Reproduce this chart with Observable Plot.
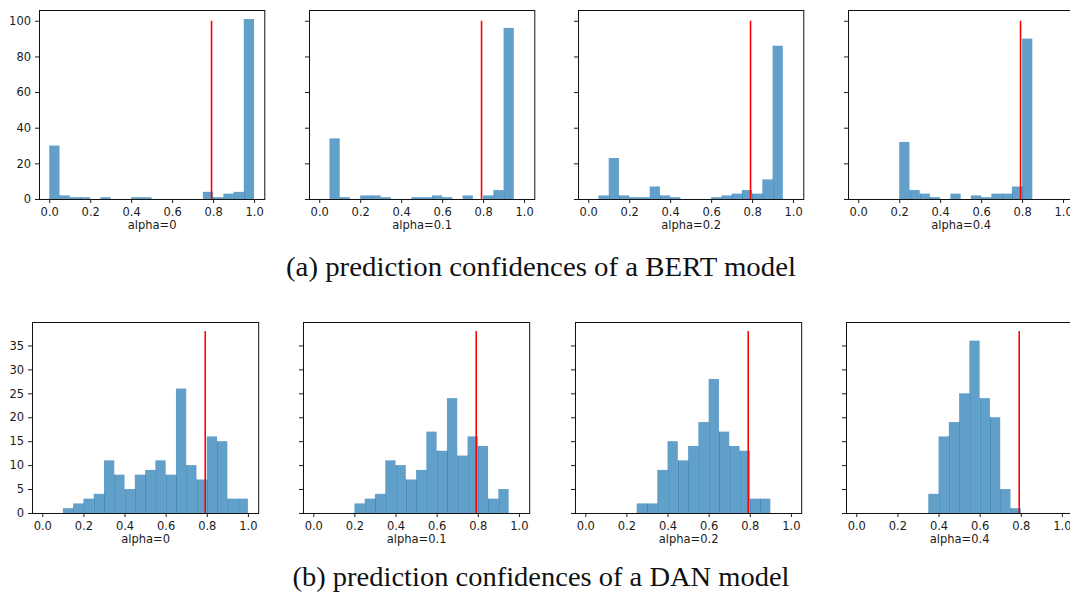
<!DOCTYPE html>
<html>
<head>
<meta charset="utf-8">
<script src="https://cdn.jsdelivr.net/npm/d3@7"></script>
<script src="https://cdn.jsdelivr.net/npm/@observablehq/plot@0.6"></script>
<style>
  html, body { margin: 0; padding: 0; background: #fff; overflow: hidden; }
  #page { position: relative; width: 1070px; height: 592px; overflow: hidden; background: #fff; }
  #page svg { position: absolute; }
</style>
</head>
<body>
<div id="page"></div>
<script>
// Histogram bin edges (20 bins of width 0.05 over [0, 1])
const binEdges = [0, 0.05, 0.1, 0.15, 0.2, 0.25, 0.3, 0.35, 0.4, 0.45, 0.5,
                  0.55, 0.6, 0.65, 0.7, 0.75, 0.8, 0.85, 0.9, 0.95, 1.0];

// Per-bin counts of prediction confidences, BERT model
const bertAlpha0   = [30, 2, 1, 1, 0, 1, 0, 0, 1, 1, 0, 0, 0, 0, 0, 4, 1, 3, 4, 101];
const bertAlpha01  = [0, 34, 1, 0, 2, 2, 1, 0, 0, 1, 1, 2, 1, 0, 2, 0, 2, 5, 96, 0];
const bertAlpha02  = [0, 2, 23, 2, 1, 1, 7, 2, 1, 0, 0, 0, 1, 2, 3, 5, 3, 11, 86, 0];
const bertAlpha04  = [0, 0, 0, 0, 32, 5, 3, 1, 0, 3, 0, 2, 1, 3, 3, 7, 90, 0, 0, 0];

// Per-bin counts of prediction confidences, DAN model
const danAlpha0    = [0, 0, 1, 2, 3, 4, 11, 8, 5, 8, 9, 11, 8, 26, 10, 7, 16, 15, 3, 3];
const danAlpha01   = [0, 0, 0, 0, 2, 3, 4, 11, 10, 7, 9, 17, 13, 24, 12, 16, 14, 3, 5, 0];
const danAlpha02   = [0, 0, 0, 0, 0, 2, 2, 9, 15, 11, 14, 19, 28, 17, 14, 13, 3, 3, 0, 0];
const danAlpha04   = [0, 0, 0, 0, 0, 0, 0, 4, 16, 19, 25, 36, 24, 20, 5, 1, 0, 0, 0, 0];

const panelLabels = ["alpha=0", "alpha=0.1", "alpha=0.2", "alpha=0.4"];
const captions = ["(a) prediction confidences of a BERT model",
                  "(b) prediction confidences of a DAN model"];

const xTicks = [0, 0.2, 0.4, 0.6, 0.8, 1.0];
const bertYTicks = [0, 20, 40, 60, 80, 100];
const danYTicks = [0, 5, 10, 15, 20, 25, 30, 35];

// Confidence threshold marker and its vertical extent per row
const threshold = 0.79;
const bertRuleTop = 100;
const danRuleTop = 38;

const rows = [
  {series: [bertAlpha0, bertAlpha01, bertAlpha02, bertAlpha04], yTicks: bertYTicks,
   ruleTop: bertRuleTop, frameLefts: [39, 309, 578.3, 847.8], frameTop: 10, frameH: 189, frameW: 225.3},
  {series: [danAlpha0, danAlpha01, danAlpha02, danAlpha04], yTicks: danYTicks,
   ruleTop: danRuleTop, frameLefts: [32.3, 303.3, 574.7, 846], frameTop: 321.7, frameH: 191, frameW: 226.2}
];

const page = document.getElementById("page");
const ML = 42, MR = 12, MT = 10, MB = 46;

for (const row of rows) {
  const yMax = Math.max(d3.max(row.series.flat()), row.ruleTop) * 1.05;
  row.series.forEach((counts, k) => {
    const bars = counts.map((c, i) => ({x1: binEdges[i], x2: binEdges[i + 1], count: c})).filter(d => d.count > 0);
    // thin seams where two neighbouring bars touch
    const seams = [];
    for (let i = 1; i < counts.length; i++) {
      const h = Math.min(counts[i - 1], counts[i]);
      if (h > 0) seams.push({x: binEdges[i], h});
    }
    const svg = Plot.plot({
      width: ML + row.frameW + MR,
      height: MT + row.frameH + MB,
      marginLeft: ML, marginRight: MR, marginTop: MT, marginBottom: MB,
      style: {fontFamily: "DejaVu Sans", fontSize: "11.5px", color: "#1a1a1a", background: "transparent", overflow: "visible"},
      x: {domain: [-0.05, 1.05]},
      y: {domain: [0, yMax]},
      marks: [
        Plot.rectY(bars, {x1: "x1", x2: "x2", y: "count", fill: "#1f77b4", fillOpacity: 0.7}),
        Plot.ruleX(seams, {x: "x", y1: 0, y2: "h", stroke: "#1f77b4", strokeOpacity: 0.55, strokeWidth: 0.9}),
        Plot.ruleX([threshold], {y1: 0, y2: row.ruleTop, stroke: "#ff0000", strokeWidth: 1.6}),
        Plot.frame({stroke: "#111", strokeWidth: 1}),
        Plot.axisX(xTicks, {tickFormat: d3.format(".1f"), tickSize: 4, tickPadding: 4.5, label: null}),
        Plot.axisY(row.yTicks, {tickSize: 4, tickPadding: 4.5, label: null,
                               tickFormat: k === 0 ? (d => String(d)) : (() => "")}),
        Plot.text([panelLabels[k]], {frameAnchor: "bottom", dy: 30, fontSize: 11.5, fill: "#1a1a1a"})
      ]
    });
    svg.style.left = (row.frameLefts[k] - ML) + "px";
    svg.style.top = (row.frameTop - MT) + "px";
    page.appendChild(svg);
  });
}

// Sub-figure captions
const ns = "http://www.w3.org/2000/svg";
const capSvg = document.createElementNS(ns, "svg");
capSvg.setAttribute("width", 1070);
capSvg.setAttribute("height", 592);
capSvg.style.left = "0px";
capSvg.style.top = "0px";
[[captions[0], 276, 510], [captions[1], 586, 497]].forEach(([txt, y, len]) => {
  const t = document.createElementNS(ns, "text");
  t.setAttribute("x", 541);
  t.setAttribute("y", y);
  t.setAttribute("text-anchor", "middle");
  t.setAttribute("font-family", "Liberation Serif");
  t.setAttribute("font-size", "26.5");
  t.setAttribute("fill", "#111");
  t.setAttribute("textLength", len);
  t.setAttribute("lengthAdjust", "spacingAndGlyphs");
  t.textContent = txt;
  capSvg.appendChild(t);
});
page.appendChild(capSvg);
</script>
</body>
</html>
